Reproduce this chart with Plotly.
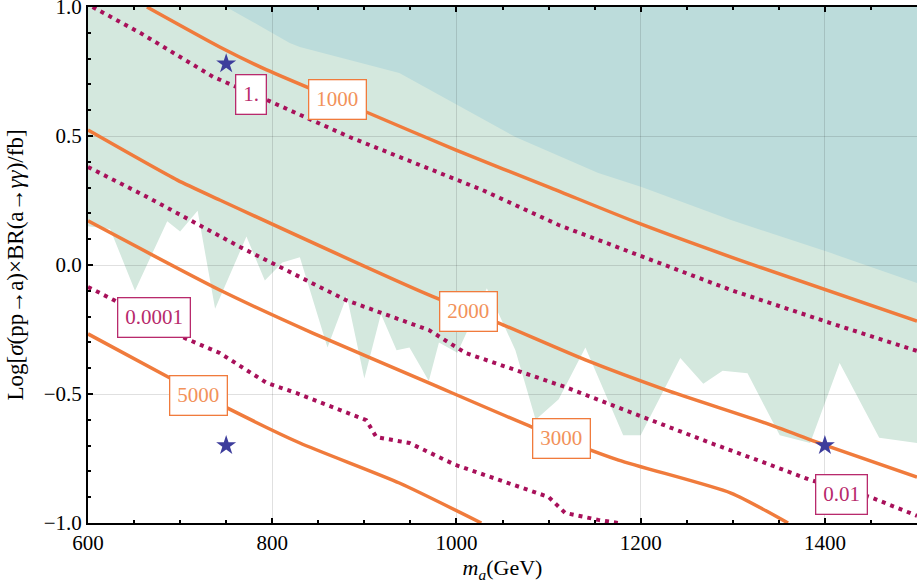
import plotly.graph_objects as go

# ---------------- data ----------------
# lower edge of the light-green excluded band (jagged limit)
limit_x = [600, 624, 651, 686, 700, 719, 738, 772, 792, 811, 830, 860, 881, 900, 918, 935, 949,
           970, 981, 1001, 1033, 1046, 1064, 1086, 1111, 1140, 1181, 1200, 1243, 1268, 1289, 1316,
           1351, 1384, 1416, 1459, 1500]
limit_y = [0.15, 0.14, -0.10, 0.17, 0.13, 0.21, -0.17, 0.11, -0.06, 0.01, 0.03, -0.32, -0.12,
           -0.44, -0.19, -0.33, -0.32, -0.45, -0.30, -0.34, -0.09, -0.19, -0.33, -0.60, -0.52,
           -0.32, -0.66, -0.66, -0.36, -0.46, -0.41, -0.42, -0.66, -0.69, -0.38, -0.67, -0.69]

# lower edge of the teal region
teal_x = [750, 790, 819, 830, 938, 1064, 1154, 1201, 1298, 1406, 1500]
teal_y = [1.0, 0.92, 0.86, 0.845, 0.744, 0.496, 0.357, 0.302, 0.174, 0.047, -0.07]

# solid orange contours
c1000_x = [664, 743, 794, 902, 999, 1103, 1197, 1316, 1500]
c1000_y = [1.0, 0.845, 0.756, 0.593, 0.446, 0.298, 0.163, 0.008, -0.217]
c2000_x = [600, 697, 743, 970, 1046, 1140, 1227, 1335, 1400, 1500]
c2000_y = [0.523, 0.329, 0.252, -0.116, -0.225, -0.368, -0.484, -0.612, -0.698, -0.822]
c3000_x = [600, 743, 844, 970, 1082, 1176, 1298, 1360]
c3000_y = [0.171, -0.097, -0.264, -0.457, -0.628, -0.756, -0.884, -1.0]
c5000_x = [600, 689, 751, 830, 938, 1027]
c5000_y = [-0.267, -0.438, -0.554, -0.690, -0.845, -1.0]

# dotted magenta contours
d1_x = [605, 657, 736, 794, 884, 974, 1028, 1111, 1190, 1298, 1406, 1500]
d1_y = [1.0, 0.899, 0.729, 0.640, 0.496, 0.368, 0.291, 0.155, 0.047, -0.097, -0.225, -0.333]
d001_x = [600, 664, 765, 880, 970, 1010, 1118, 1201, 1273, 1335, 1384, 1449, 1500]
d001_y = [0.380, 0.264, 0.070, -0.136, -0.252, -0.341, -0.473, -0.589, -0.686, -0.767, -0.833,
          -0.899, -0.972]
d00001_x = [600, 628, 697, 743, 772, 794, 826, 902, 913, 949, 999, 1100, 1118, 1154, 1176]
d00001_y = [-0.085, -0.136, -0.271, -0.341, -0.407, -0.457, -0.496, -0.601, -0.667, -0.690,
            -0.775, -0.899, -0.961, -0.988, -1.0]

# contour labels
orange_labels = ["1000", "2000", "3000", "5000"]
orange_lab_x = [871, 1013, 1114, 720]
orange_lab_y = [0.643, -0.181, -0.674, -0.504]
magenta_labels = ["1.", "0.01", "0.0001"]
magenta_lab_x = [777, 1418, 672]
magenta_lab_y = [0.659, -0.888, -0.202]

# benchmark stars
star_x = [750, 750, 1400]
star_y = [0.78, -0.70, -0.70]

x_range = [600, 1500]
y_range = [-1.0, 1.0]
x_ticks = [600, 800, 1000, 1200, 1400]
y_ticks = [-1.0, -0.5, 0.0, 0.5, 1.0]
y_ticktext = ["\u22121.0", "\u22120.5", "0.0", "0.5", "1.0"]

# ---------------- styles ----------------
ORANGE = "#f07b3c"
ORANGE_TXT = "#f2925a"
MAGENTA = "#a8105a"
MAGENTA_TXT = "#b82a6c"
GREEN = "#d4e8de"
TEAL = "#bcdcdb"
FONT = "Liberation Serif"


def poly_path(xs, ys):
    pts = " L ".join(f"{x},{y}" for x, y in zip(xs, ys))
    return "M " + pts + " Z"


fig = go.Figure()

# filled regions (as shapes under the grid)
green_xs = limit_x + [x_range[1], x_range[0]]
green_ys = limit_y + [y_range[1], y_range[1]]
teal_xs = teal_x + [x_range[1]]
teal_ys = teal_y + [y_range[1]]
fig.add_shape(type="path", path=poly_path(green_xs, green_ys), xref="x", yref="y",
              fillcolor=GREEN, line=dict(width=0), layer="below")
fig.add_shape(type="path", path=poly_path(teal_xs, teal_ys), xref="x", yref="y",
              fillcolor=TEAL, line=dict(width=0), layer="below")

for xs, ys in [(c1000_x, c1000_y), (c2000_x, c2000_y), (c3000_x, c3000_y), (c5000_x, c5000_y)]:
    fig.add_trace(go.Scatter(x=xs, y=ys, mode="lines",
                             line=dict(color=ORANGE, width=3.5, shape="spline", smoothing=0.6),
                             hoverinfo="skip", showlegend=False))

for xs, ys in [(d1_x, d1_y), (d001_x, d001_y), (d00001_x, d00001_y)]:
    fig.add_trace(go.Scatter(x=xs, y=ys, mode="lines",
                             line=dict(color=MAGENTA, width=4, dash="4px,5px"),
                             hoverinfo="skip", showlegend=False))

fig.add_trace(go.Scatter(x=star_x, y=star_y, mode="markers",
                         marker=dict(symbol="star", size=15, color="#3d3d9c",
                                     line=dict(width=0)),
                         hoverinfo="skip", showlegend=False))

for t, x, y in zip(orange_labels, orange_lab_x, orange_lab_y):
    fig.add_annotation(x=x, y=y, text=t, showarrow=False,
                       font=dict(family=FONT, size=21, color=ORANGE_TXT),
                       bgcolor="white", bordercolor=ORANGE, borderwidth=1.3, borderpad=7)
for t, x, y in zip(magenta_labels, magenta_lab_x, magenta_lab_y):
    fig.add_annotation(x=x, y=y, text=t, showarrow=False,
                       font=dict(family=FONT, size=21, color=MAGENTA_TXT),
                       bgcolor="white", bordercolor=MAGENTA_TXT, borderwidth=1.3, borderpad=7)

fig.update_layout(
    width=917, height=585,
    margin=dict(l=88, r=0, t=7, b=62, autoexpand=False),
    paper_bgcolor="white", plot_bgcolor="white",
    font=dict(family=FONT, size=21, color="black"),
    showlegend=False,
)
fig.update_xaxes(
    range=x_range, tickvals=x_ticks, ticks="inside", ticklen=5, tickwidth=2, tickcolor="black",
    showline=True, linecolor="black", linewidth=2, mirror="ticks", automargin=False,
    showgrid=True, gridcolor="rgba(0,0,0,0.12)", gridwidth=1, zeroline=False,
    minor=dict(dtick=50, ticks="inside", ticklen=3, tickcolor="black", tickwidth=1.5, showgrid=False),
    title=dict(text="<i>m</i><sub><i>a</i></sub>(GeV)", font=dict(family=FONT, size=22), standoff=4),
    tickfont=dict(family=FONT, size=21), ticklabeloverflow="allow",
)
fig.update_yaxes(
    range=y_range, tickvals=y_ticks, ticktext=y_ticktext, ticks="inside", ticklen=5, tickwidth=2,
    tickcolor="black", showline=True, linecolor="black", linewidth=2, mirror=False, automargin=False,
    showgrid=True, gridcolor="rgba(0,0,0,0.12)", gridwidth=1, zeroline=False,
    minor=dict(dtick=0.1, ticks="inside", ticklen=3, tickcolor="black", tickwidth=1.5, showgrid=False),
    title=dict(text="Log[<i>\u03c3</i>(pp\u2192a)\u00d7BR(a\u2192<i>\u03b3\u03b3</i>)/fb]",
               font=dict(family=FONT, size=23), standoff=14),
    tickfont=dict(family=FONT, size=21), ticklabeloverflow="allow",
)

fig.write_html("out.html", config={"displayModeBar": False},
               post_script="document.body.style.margin='0';document.body.style.overflow='hidden';")
